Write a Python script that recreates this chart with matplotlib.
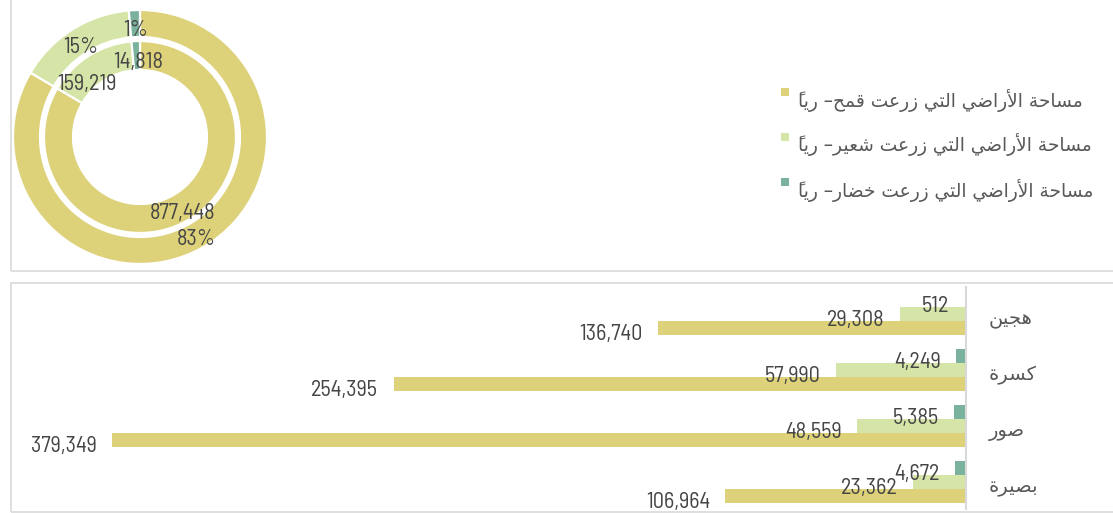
import matplotlib
matplotlib.use('Agg')
import matplotlib.pyplot as plt
from matplotlib.patches import Rectangle
from matplotlib import font_manager
import numpy as np

# ---------------- data ----------------
categories = ['هجين', 'كسرة', 'صور', 'بصيرة']
wheat = [136740, 254395, 379349, 106964]
barley = [29308, 57990, 48559, 23362]
vegetables = [512, 4249, 5385, 4672]
series_names = ['مساحة الأراضي التي زرعت قمح– رياً',
                'مساحة الأراضي التي زرعت شعير– رياً',
                'مساحة الأراضي التي زرعت خضار– رياً']
colors = ['#DDD179', '#D5E4A7', '#7AB29D']

# ---------------- minimal Arabic shaping (matplotlib has no complex text layout) ----------------
_TABLE = [(0x0621, 0xFE80, 1), (0x0622, 0xFE81, 2), (0x0623, 0xFE83, 2), (0x0624, 0xFE85, 2),
          (0x0625, 0xFE87, 2), (0x0626, 0xFE89, 4), (0x0627, 0xFE8D, 2), (0x0628, 0xFE8F, 4),
          (0x0629, 0xFE93, 2), (0x062A, 0xFE95, 4), (0x062B, 0xFE99, 4), (0x062C, 0xFE9D, 4),
          (0x062D, 0xFEA1, 4), (0x062E, 0xFEA5, 4), (0x062F, 0xFEA9, 2), (0x0630, 0xFEAB, 2),
          (0x0631, 0xFEAD, 2), (0x0632, 0xFEAF, 2), (0x0633, 0xFEB1, 4), (0x0634, 0xFEB5, 4),
          (0x0635, 0xFEB9, 4), (0x0636, 0xFEBD, 4), (0x0637, 0xFEC1, 4), (0x0638, 0xFEC5, 4),
          (0x0639, 0xFEC9, 4), (0x063A, 0xFECD, 4), (0x0641, 0xFED1, 4), (0x0642, 0xFED5, 4),
          (0x0643, 0xFED9, 4), (0x0644, 0xFEDD, 4), (0x0645, 0xFEE1, 4), (0x0646, 0xFEE5, 4),
          (0x0647, 0xFEE9, 4), (0x0648, 0xFEED, 2), (0x0649, 0xFEEF, 2), (0x064A, 0xFEF1, 4)]
FORMS = {chr(b): tuple(chr(s + k) for k in range(n)) for b, s, n in _TABLE}
LAMALEF = {'\u0622': ('\uFEF5', '\uFEF6'), '\u0623': ('\uFEF7', '\uFEF8'),
           '\u0625': ('\uFEF9', '\uFEFA'), '\u0627': ('\uFEFB', '\uFEFC')}


def shape(text):
    clusters = []
    for ch in text:
        if '\u064B' <= ch <= '\u065F' and clusters:
            clusters[-1][1] += ch
        else:
            clusters.append([ch, ''])
    merged, i = [], 0
    while i < len(clusters):
        b, m = clusters[i]
        if b == '\u0644' and i + 1 < len(clusters) and clusters[i + 1][0] in LAMALEF:
            merged.append(['LA' + clusters[i + 1][0], m + clusters[i + 1][1]])
            i += 2
        else:
            merged.append([b, m])
            i += 1

    def dual(b):
        return b in FORMS and len(FORMS[b]) == 4

    def arabic(b):
        return b in FORMS or b.startswith('LA')

    out = []
    for i, (b, m) in enumerate(merged):
        prev = merged[i - 1][0] if i > 0 else None
        nxt = merged[i + 1][0] if i + 1 < len(merged) else None
        jp = prev is not None and dual(prev)
        jn = nxt is not None and arabic(nxt) and dual(b)
        if b.startswith('LA'):
            g = LAMALEF[b[2]][1 if jp else 0]
        elif b in FORMS:
            f = FORMS[b]
            if len(f) == 4:
                g = f[3] if (jp and jn) else f[1] if jp else f[2] if jn else f[0]
            elif len(f) == 2:
                g = f[1] if jp else f[0]
            else:
                g = f[0]
        else:
            g = b
        out.append(m + g)   # mark first: it is drawn over the following glyph
    return ''.join(reversed(out))


# ---------------- fonts ----------------
avail = {f.name for f in font_manager.fontManager.ttflist}
num_font = next((f for f in ['Barlow Semi Condensed', 'Roboto Condensed', 'Liberation Sans Narrow',
                             'Roboto', 'DejaVu Sans'] if f in avail), 'DejaVu Sans')
ar_font = 'DejaVu Sans'
NUM_C = '#454545'
AR_C = '#595959'
NUM_FS = 16
NUM_W = 'normal'

W, H = 1113, 513
fig = plt.figure(figsize=(W / 100, H / 100), dpi=100)
fig.patch.set_facecolor('white')

# panel frames
fig.add_artist(Rectangle((11 / W, (H - 271) / H), 1.2, 0.8, transform=fig.transFigure,
                         fill=False, edgecolor='#D9D9D9', linewidth=1.2))
fig.add_artist(Rectangle((11 / W, (H - 512) / H), 1.2, (512 - 283) / H, transform=fig.transFigure,
                         fill=False, edgecolor='#D9D9D9', linewidth=1.2))

# ---------------- donut ----------------
R = 127
cx, cy = 140, 137
axd = fig.add_axes([(cx - R) / W, (H - cy - R) / H, 2 * R / W, 2 * R / H])
totals = [sum(wheat), sum(barley), sum(vegetables)]
wp = dict(edgecolor='white', linewidth=1.6)
axd.pie(totals, radius=1.0, colors=colors, startangle=90, counterclock=False,
        wedgeprops=dict(width=27 / R, **wp))
axd.pie(totals, radius=96 / R, colors=colors, startangle=90, counterclock=False,
        wedgeprops=dict(width=29 / R, **wp))
axd.set_xlim(-1, 1)
axd.set_ylim(-1, 1)
axd.set_aspect('equal')
axd.axis('off')

fr = np.array(totals) / sum(totals)
mids = 90 - 360 * (np.cumsum(fr) - fr / 2)
inner_nudge = [0, 11, 0]
dy = -5 / R
for k, (a, f, v) in enumerate(zip(mids, fr, totals)):
    ro = 112 / R
    axd.text(ro * np.cos(np.deg2rad(a)) + 1 / R, ro * np.sin(np.deg2rad(a)) + dy, f'{f * 100:.0f}%',
             ha='center', va='center', fontsize=NUM_FS, color=NUM_C, family=num_font,
             fontweight=NUM_W)
    ri = 81 / R
    ai = np.deg2rad(a + inner_nudge[k])
    axd.text(ri * np.cos(ai) + 2 / R, ri * np.sin(ai) + dy - 1 / R, f'{v:,}',
             ha='center', va='center', fontsize=NUM_FS, color=NUM_C, family=num_font,
             fontweight=NUM_W)

# ---------------- legend ----------------
leg_y = [100, 145, 190]
for name, c, yy in zip(series_names, colors, leg_y):
    fig.text(798 / W, 1 - yy / H, shape(name), ha='left', va='center', fontsize=13.4,
             color=AR_C, family=ar_font)
    fig.add_artist(Rectangle((781 / W, 1 - (yy - 4) / H), 8 / W, 8 / H, transform=fig.transFigure,
                             facecolor=c, edgecolor='none'))

# ---------------- bars ----------------
axb = fig.add_axes([21 / W, 4 / H, 945 / W, 222 / H])
y = np.arange(len(categories))
h = 0.25
series = [(vegetables, colors[2], -h), (barley, colors[1], 0.0), (wheat, colors[0], h)]
for vals, c, off in series:
    axb.barh(y + off, vals, height=h, color=c, edgecolor='none')
    for yi, v in zip(y, vals):
        axb.annotate(f'{v:,}', xy=(v, yi + off), xytext=(-11, -4.5), textcoords='offset points',
                     ha='right', va='center', fontsize=NUM_FS, color=NUM_C, family=num_font,
                     fontweight=NUM_W)
axb.set_xlim(420000, 0)
axb.set_ylim(len(categories) - 0.518, -0.482)
axb.set_xticks([])
axb.set_yticks([])
for yi, cat in zip(y, categories):
    axb.annotate(shape(cat), xy=(1.0, yi), xycoords=('axes fraction', 'data'),
                 xytext=(16.5, -4), textcoords='offset points', ha='left', va='center',
                 family=ar_font, fontsize=14, color=AR_C, annotation_clip=False)
for s in ['left', 'top', 'bottom']:
    axb.spines[s].set_visible(False)
axb.spines['right'].set_color('#D9D9D9')
axb.spines['right'].set_linewidth(1.5)
axb.patch.set_alpha(0)

fig.savefig('out.png', dpi=100)
